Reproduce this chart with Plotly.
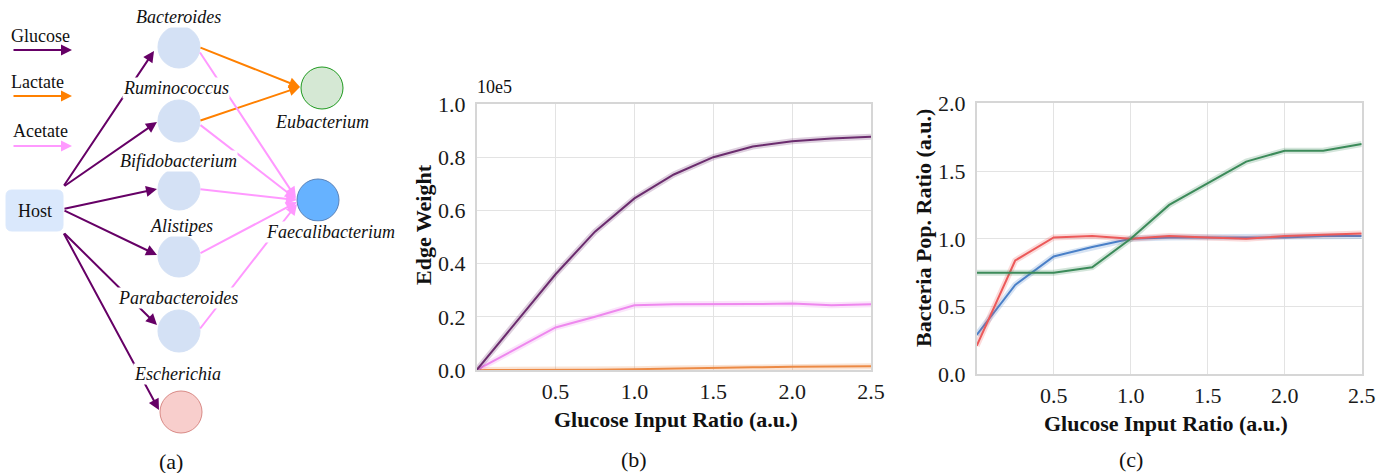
import plotly.graph_objects as go

# ---------------- data ----------------
glucose_ratio = [0.0, 0.25, 0.5, 0.75, 1.0, 1.25, 1.5, 1.75, 2.0, 2.25, 2.5]

# panel (b): edge weights (x 10e5)
edge_glucose = [0.0, 0.18, 0.36, 0.52, 0.645, 0.735, 0.80, 0.84, 0.86, 0.87, 0.877]
edge_acetate = [0.0, 0.08, 0.16, 0.20, 0.243, 0.247, 0.247, 0.248, 0.25, 0.243, 0.247]
edge_lactate = [0.0, 0.0, 0.0, 0.001, 0.003, 0.006, 0.008, 0.010, 0.012, 0.013, 0.014]

# panel (c): bacteria population ratio
pop_green = [0.75, 0.75, 0.75, 0.79, 1.0, 1.25, 1.41, 1.57, 1.65, 1.65, 1.70]
pop_red = [0.21, 0.84, 1.01, 1.02, 1.0, 1.02, 1.01, 1.0, 1.02, 1.03, 1.04]
pop_blue = [0.29, 0.66, 0.87, 0.94, 1.0, 1.01, 1.01, 1.01, 1.01, 1.02, 1.02]

x_ticks = [0.5, 1.0, 1.5, 2.0, 2.5]
x_tick_labels = ["0.5", "1.0", "1.5", "2.0", "2.5"]
yb_ticks = [0.0, 0.2, 0.4, 0.6, 0.8, 1.0]
yb_tick_labels = ["0.0", "0.2", "0.4", "0.6", "0.8", "1.0"]
yc_ticks = [0.0, 0.5, 1.0, 1.5, 2.0]
yc_tick_labels = ["0.0", "0.5", "1.0", "1.5", "2.0"]

# diagram text
legend_names = ["Glucose", "Lactate", "Acetate"]
node_names = ["Bacteroides", "Ruminococcus", "Bifidobacterium", "Alistipes",
              "Parabacteroides", "Escherichia", "Eubacterium", "Faecalibacterium"]

# ---------------- styling / layout ----------------
W, H = 1380, 473
SERIF = "Liberation Serif"
PURPLE_E, ORANGE_E, PINK_E = "#660066", "#ff8000", "#ff99ff"

def P(px, py):
    return px / W, 1 - py / H

fig = go.Figure()

# invisible trace to anchor diagram axes
fig.add_trace(go.Scatter(x=[200], y=[200], mode="markers", marker=dict(opacity=0),
                         hoverinfo="skip", showlegend=False, xaxis="x", yaxis="y"))

def add_series(xs, ys, color, ax, ayy):
    fig.add_trace(go.Scatter(x=xs, y=ys, mode="lines", line=dict(color=color, width=6),
                             opacity=0.22, hoverinfo="skip", showlegend=False, xaxis=ax, yaxis=ayy))
    fig.add_trace(go.Scatter(x=xs, y=ys, mode="lines", line=dict(color=color, width=2),
                             showlegend=False, xaxis=ax, yaxis=ayy))

add_series(glucose_ratio, edge_lactate, "#ec8a45", "x2", "y2")
add_series(glucose_ratio, edge_acetate, "#ee88ee", "x2", "y2")
add_series(glucose_ratio, edge_glucose, "#6b2c6e", "x2", "y2")

add_series(glucose_ratio, pop_blue, "#4b80c8", "x3", "y3")
add_series(glucose_ratio, pop_red, "#ec5a5a", "x3", "y3")
add_series(glucose_ratio, pop_green, "#3c8b5a", "x3", "y3")

axis_common = dict(showgrid=True, gridcolor="#e3e3e3", gridwidth=1.2, showline=True,
                   linecolor="#d6d6d6", linewidth=1.5, mirror=True, zeroline=False,
                   tickfont=dict(family=SERIF, size=22, color="#1a1a1a"),
                   ticks="outside", tickcolor="rgba(0,0,0,0)", fixedrange=True,
                   automargin=False)

fig.update_layout(
    width=W, height=H, margin=dict(l=0, r=0, t=0, b=0, pad=0, autoexpand=False),
    paper_bgcolor="white", plot_bgcolor="white", showlegend=False,
    xaxis=dict(domain=[0, 400 / W], range=[0, 400], visible=False, fixedrange=True,
               automargin=False),
    yaxis=dict(domain=[0, 1], range=[H, 0], visible=False, fixedrange=True,
               automargin=False),
    xaxis2=dict(domain=[476.7 / W, 871 / W], range=[0, 2.5], tickvals=x_ticks,
                ticktext=x_tick_labels, anchor="y2", ticklen=1, **axis_common),
    yaxis2=dict(domain=[1 - 370 / H, 1 - 104 / H], range=[0, 1.0], tickvals=yb_ticks,
                ticktext=yb_tick_labels, anchor="x2", ticklen=5, **axis_common),
    xaxis3=dict(domain=[976.7 / W, 1361.7 / W], range=[0, 2.5], tickvals=x_ticks,
                ticktext=x_tick_labels, anchor="y3", ticklen=1, **axis_common),
    yaxis3=dict(domain=[1 - 374.3 / H, 1 - 103.3 / H], range=[0, 2.0], tickvals=yc_ticks,
                ticktext=yc_tick_labels, anchor="x3", ticklen=5, **axis_common),
)

shapes = []
annotations = []

# ---- diagram nodes ----
node_pos = {
    "Bacteroides": (179, 47), "Ruminococcus": (179, 121), "Bifidobacterium": (179, 189),
    "Alistipes": (179, 256), "Parabacteroides": (179, 331), "Escherichia": (181, 412),
    "Eubacterium": (322, 88), "Faecalibacterium": (318, 200),
}
node_style = {
    "Escherichia": ("#f8cecc", "#d98a86"),
    "Eubacterium": ("#d5e8d4", "#1f9a1f"),
    "Faecalibacterium": ("#66b2ff", "#5a82b8"),
}
R = 21
for name in node_names:
    cx, cy = node_pos[name]
    fill, border = node_style.get(name, ("#d4e1f5", "#d4e1f5"))
    shapes.append(dict(type="circle", xref="x", yref="y", x0=cx - R, x1=cx + R,
                       y0=cy - R, y1=cy + R, fillcolor=fill,
                       line=dict(color=border, width=1), layer="above"))

# host rounded box
hx0, hx1, hy0, hy1, rr = 6, 63, 190, 231, 6
host_path = (f"M {hx0+rr},{hy0} L {hx1-rr},{hy0} Q {hx1},{hy0} {hx1},{hy0+rr} "
             f"L {hx1},{hy1-rr} Q {hx1},{hy1} {hx1-rr},{hy1} L {hx0+rr},{hy1} "
             f"Q {hx0},{hy1} {hx0},{hy1-rr} L {hx0},{hy0+rr} Q {hx0},{hy0} {hx0+rr},{hy0} Z")
shapes.append(dict(type="path", xref="x", yref="y", path=host_path,
                   fillcolor="#dae8fc", line=dict(color="#dae8fc", width=1), layer="above"))

# ---- diagram edges (tail -> tip) ----
edges = [
    # glucose
    ((63, 187), (154, 51), PURPLE_E),
    ((63, 187), (157, 122), PURPLE_E),
    ((63, 209), (157, 189), PURPLE_E),
    ((63, 210), (157, 255), PURPLE_E),
    ((63, 232), (157, 325), PURPLE_E),
    ((63, 232), (159, 410), PURPLE_E),
    # lactate
    ((199, 47), (300, 87), ORANGE_E),
    ((199, 121), (300, 87), ORANGE_E),
    # acetate
    ((199, 51), (296, 198), PINK_E),
    ((199, 124), (296, 199), PINK_E),
    ((199, 189), (297, 200), PINK_E),
    ((199, 254), (297, 202), PINK_E),
    ((199, 330), (297, 204), PINK_E),
    # legend arrows
    ((12, 50), (72, 50), PURPLE_E),
    ((12, 96), (72, 96), ORANGE_E),
    ((12, 146), (72, 146), PINK_E),
]
for (tx, ty), (hx, hy), col in edges:
    annotations.append(dict(x=hx, y=hy, ax=tx, ay=ty, xref="x", yref="y", axref="x",
                            ayref="y", text="", showarrow=True, arrowhead=2, arrowsize=1.1,
                            arrowwidth=2, arrowcolor=col, standoff=0, startstandoff=0))

# ---- diagram labels ----
label_pos = {
    "Bacteroides": (178, 17), "Ruminococcus": (176, 88), "Bifidobacterium": (178, 161),
    "Alistipes": (181, 226), "Parabacteroides": (178, 298), "Escherichia": (177, 374),
    "Eubacterium": (322, 122), "Faecalibacterium": (330, 232),
}
for name in node_names:
    lx, ly = label_pos[name]
    annotations.append(dict(x=lx, y=ly, xref="x", yref="y", text=f"<i>{name}</i>",
                            showarrow=False, bgcolor="white", borderpad=0,
                            font=dict(family=SERIF, size=18, color="#111")))
legend_pos = [(40, 36), (37, 82), (40, 131)]
for name, (lx, ly) in zip(legend_names, legend_pos):
    annotations.append(dict(x=lx, y=ly, xref="x", yref="y", text=name, showarrow=False,
                            font=dict(family=SERIF, size=18, color="#111")))
annotations.append(dict(x=34.5, y=211, xref="x", yref="y", text="Host", showarrow=False,
                        font=dict(family=SERIF, size=18, color="#111")))

# ---- panel texts ----
def paper_text(px, py, text, size, bold=False, angle=0):
    x, y = P(px, py)
    t = f"<b>{text}</b>" if bold else text
    annotations.append(dict(x=x, y=y, xref="paper", yref="paper", text=t, showarrow=False,
                            textangle=angle, xanchor="center", yanchor="middle",
                            font=dict(family=SERIF, size=size, color="#111")))

paper_text(171, 461, "(a)", 22)
paper_text(634, 459, "(b)", 22)
paper_text(1131, 459, "(c)", 22)
paper_text(676, 419, "Glucose Input Ratio (a.u.)", 22, bold=True)
paper_text(1166, 423, "Glucose Input Ratio (a.u.)", 22, bold=True)
paper_text(423, 225, "Edge Weight", 22, bold=True, angle=-90)
paper_text(923, 228, "Bacteria Pop. Ratio (a.u.)", 22, bold=True, angle=-90)
paper_text(494, 87, "10e5", 18)

fig.update_layout(shapes=shapes, annotations=annotations)
fig.write_html("out.html")
